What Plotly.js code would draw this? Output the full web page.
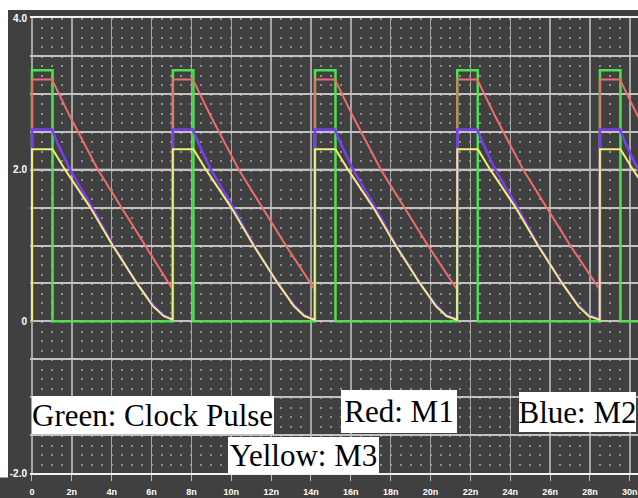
<!DOCTYPE html>
<html>
<head>
<meta charset="utf-8">
<script src="https://cdn.plot.ly/plotly-3.0.1.min.js"></script>
<style>html,body{margin:0;padding:0;background:#404040;}#chart{width:638px;height:498px;}</style>
</head>
<body>
<div id="chart"></div>
<script>
// time in ns, voltage in V
const greenT = [-0.1, 0, 0, 1.03, 1.03, 7.07, 7.07, 8.10, 8.10, 14.2, 14.2, 15.23, 15.23, 21.34, 21.34, 22.37, 22.37, 28.5, 28.5, 29.53, 29.53, 31];
const greenV = [0, 0, 3.31, 3.31, 0, 0, 3.31, 3.31, 0, 0, 3.31, 3.31, 0, 0, 3.31, 3.31, 0, 0, 3.31, 3.31, 0, 0];

const redT = [0, 0, 1.0, 1.91, 3.31, 5.67, 7.06,
  7.07, 8.07, 8.98, 10.38, 12.74, 14.19,
  14.2, 15.2, 16.11, 17.51, 19.87, 21.33,
  21.34, 22.34, 23.25, 24.65, 27.01, 28.49,
  28.5, 29.5, 30.41, 31.81];
const redV = [0, 3.19, 3.19, 2.70, 2.0, 1.0, 0.42,
  3.19, 3.19, 2.70, 2.0, 1.0, 0.42,
  3.19, 3.19, 2.70, 2.0, 1.0, 0.42,
  3.19, 3.19, 2.70, 2.0, 1.0, 0.42,
  3.19, 3.19, 2.70, 2.0];

const blueT = [0, 0, 1.0, 1.3, 1.91, 3.03, 4.08, 5.27, 6.07, 6.6, 7.06,
  7.07, 8.07, 8.37, 8.98, 10.10, 11.15, 12.34, 13.14, 13.67, 14.19,
  14.2, 15.2, 15.5, 16.11, 17.23, 18.28, 19.47, 20.27, 20.8, 21.33,
  21.34, 22.34, 22.64, 23.25, 24.37, 25.42, 26.61, 27.41, 27.94, 28.49,
  28.5, 29.5, 29.8, 30.41, 31.53];
const blueV = [0, 2.53, 2.53, 2.34, 2.0, 1.5, 1.0, 0.5, 0.22, 0.08, 0.03,
  2.53, 2.53, 2.34, 2.0, 1.5, 1.0, 0.5, 0.22, 0.08, 0.03,
  2.53, 2.53, 2.34, 2.0, 1.5, 1.0, 0.5, 0.22, 0.08, 0.03,
  2.53, 2.53, 2.34, 2.0, 1.5, 1.0, 0.5, 0.22, 0.08, 0.03,
  2.53, 2.53, 2.34, 2.0, 1.5];

const yellowT = [0, 0, 1.03, 1.66, 2.93, 4.05, 5.27, 6.07, 6.6, 7.06,
  7.07, 8.10, 8.73, 10.00, 11.12, 12.34, 13.14, 13.67, 14.19,
  14.2, 15.23, 15.86, 17.13, 18.25, 19.47, 20.27, 20.8, 21.33,
  21.34, 22.37, 23.0, 24.27, 25.39, 26.61, 27.41, 27.94, 28.49,
  28.5, 29.53, 30.16, 31.43];
const yellowV = [0, 2.27, 2.27, 2.0, 1.5, 1.0, 0.5, 0.2, 0.07, 0.02,
  2.27, 2.27, 2.0, 1.5, 1.0, 0.5, 0.2, 0.07, 0.02,
  2.27, 2.27, 2.0, 1.5, 1.0, 0.5, 0.2, 0.07, 0.02,
  2.27, 2.27, 2.0, 1.5, 1.0, 0.5, 0.2, 0.07, 0.02,
  2.27, 2.27, 2.0, 1.5];

const xTickVals = [0, 2, 4, 6, 8, 10, 12, 14, 16, 18, 20, 22, 24, 26, 28, 30];
const xTickText = ["0", "2n", "4n", "6n", "8n", "10n", "12n", "14n", "16n", "18n", "20n", "22n", "24n", "26n", "28n", "30n"];
const yTickVals = [-2, -1.5, -1, -0.5, 0, 0.5, 1, 1.5, 2, 2.5, 3, 3.5, 4];
const yTickText = ["-2.0", "", "", "", "0", "", "", "", "2.0", "", "", "", "4.0"];

const legendLabels = ["Green: Clock Pulse", "Red: M1", "Blue: M2", "Yellow: M3"];

const mk = (x, y, color, w) => ({x: x, y: y, type: 'scatter', mode: 'lines', line: {color: color, width: w}, hoverinfo: 'skip'});
const data = [
  mk(greenT, greenV, '#4fe04f', 2.5),
  mk(redT, redV, '#f06c6c', 2),
  mk(blueT, blueV, '#7a3cf2', 2.5),
  mk(yellowT, yellowV, '#f2ee78', 2)
];

const boxFont = {family: 'Liberation Serif, Times New Roman, serif', size: 31, color: '#000'};
const ann = (text, x, y, w, h, align) => ({text: text, xref: 'paper', yref: 'paper', x: x, y: y, xanchor: 'left', yanchor: 'top',
  width: w, height: h, bgcolor: '#ffffff', borderpad: 0, borderwidth: 0, showarrow: false, align: align, valign: 'middle', font: boxFont});

const layout = {
  width: 638, height: 498,
  margin: {l: 30, r: 0, t: 18, b: 25, pad: 0},
  paper_bgcolor: '#404040', plot_bgcolor: '#404040',
  showlegend: false,
  xaxis: {
    range: [-0.1, 30.41], tickmode: 'array', tickvals: xTickVals, ticktext: xTickText,
    showgrid: true, gridcolor: '#a4a4a4', gridwidth: 1.5, zeroline: false,
    showline: true, mirror: true, linecolor: '#f2f2f2', linewidth: 2,
    ticks: 'outside', ticklen: 6, tickcolor: '#bdbdbd', tickwidth: 1, ticklabelstandoff: 3,
    tickfont: {family: 'Liberation Sans, Arial, sans-serif', size: 9, color: '#ffffff', weight: 'bold'},
    minor: {dtick: 0.5, tick0: 0, showgrid: true, gridcolor: '#8e8e8e', gridwidth: 2, griddash: '2px,7.48px', ticks: ''},
    fixedrange: true
  },
  yaxis: {
    range: [-2, 4], tickmode: 'array', tickvals: yTickVals, ticktext: yTickText,
    showgrid: true, gridcolor: '#c2c2c2', gridwidth: 2, zeroline: false, showline: false,
    ticks: '', ticklabelstandoff: 2,
    tickfont: {family: 'Liberation Sans, Arial, sans-serif', size: 10, color: '#ffffff', weight: 'bold'},
    fixedrange: true
  },
  shapes: [
    {type: 'line', xref: 'x', yref: 'y', x0: -0.1, x1: 30.41, y0: 2, y1: 2, line: {color: '#ececec', width: 2}, layer: 'below'},
    {type: 'rect', xref: 'paper', yref: 'paper', x0: -0.06, x1: 1.01, y0: 1.0176, y1: 1.05, fillcolor: '#ffffff', line: {width: 0}, layer: 'above'},
    {type: 'rect', xref: 'paper', yref: 'paper', x0: -0.06, x1: -0.0362, y0: -0.01, y1: 1.05, fillcolor: '#ffffff', line: {width: 0}, layer: 'above'}
  ],
  annotations: [
    ann(legendLabels[0], 0.0033, 0.1692, 242, 38, 'left'),
    ann(legendLabels[1], 0.5115, 0.1824, 116, 43, 'center'),
    ann(legendLabels[2], 0.8043, 0.1780, 117, 40, 'center'),
    ann(legendLabels[3], 0.3257, 0.0791, 151, 37, 'center')
  ]
};

Plotly.newPlot('chart', data, layout, {displayModeBar: false, staticPlot: true});
</script>
</body>
</html>
